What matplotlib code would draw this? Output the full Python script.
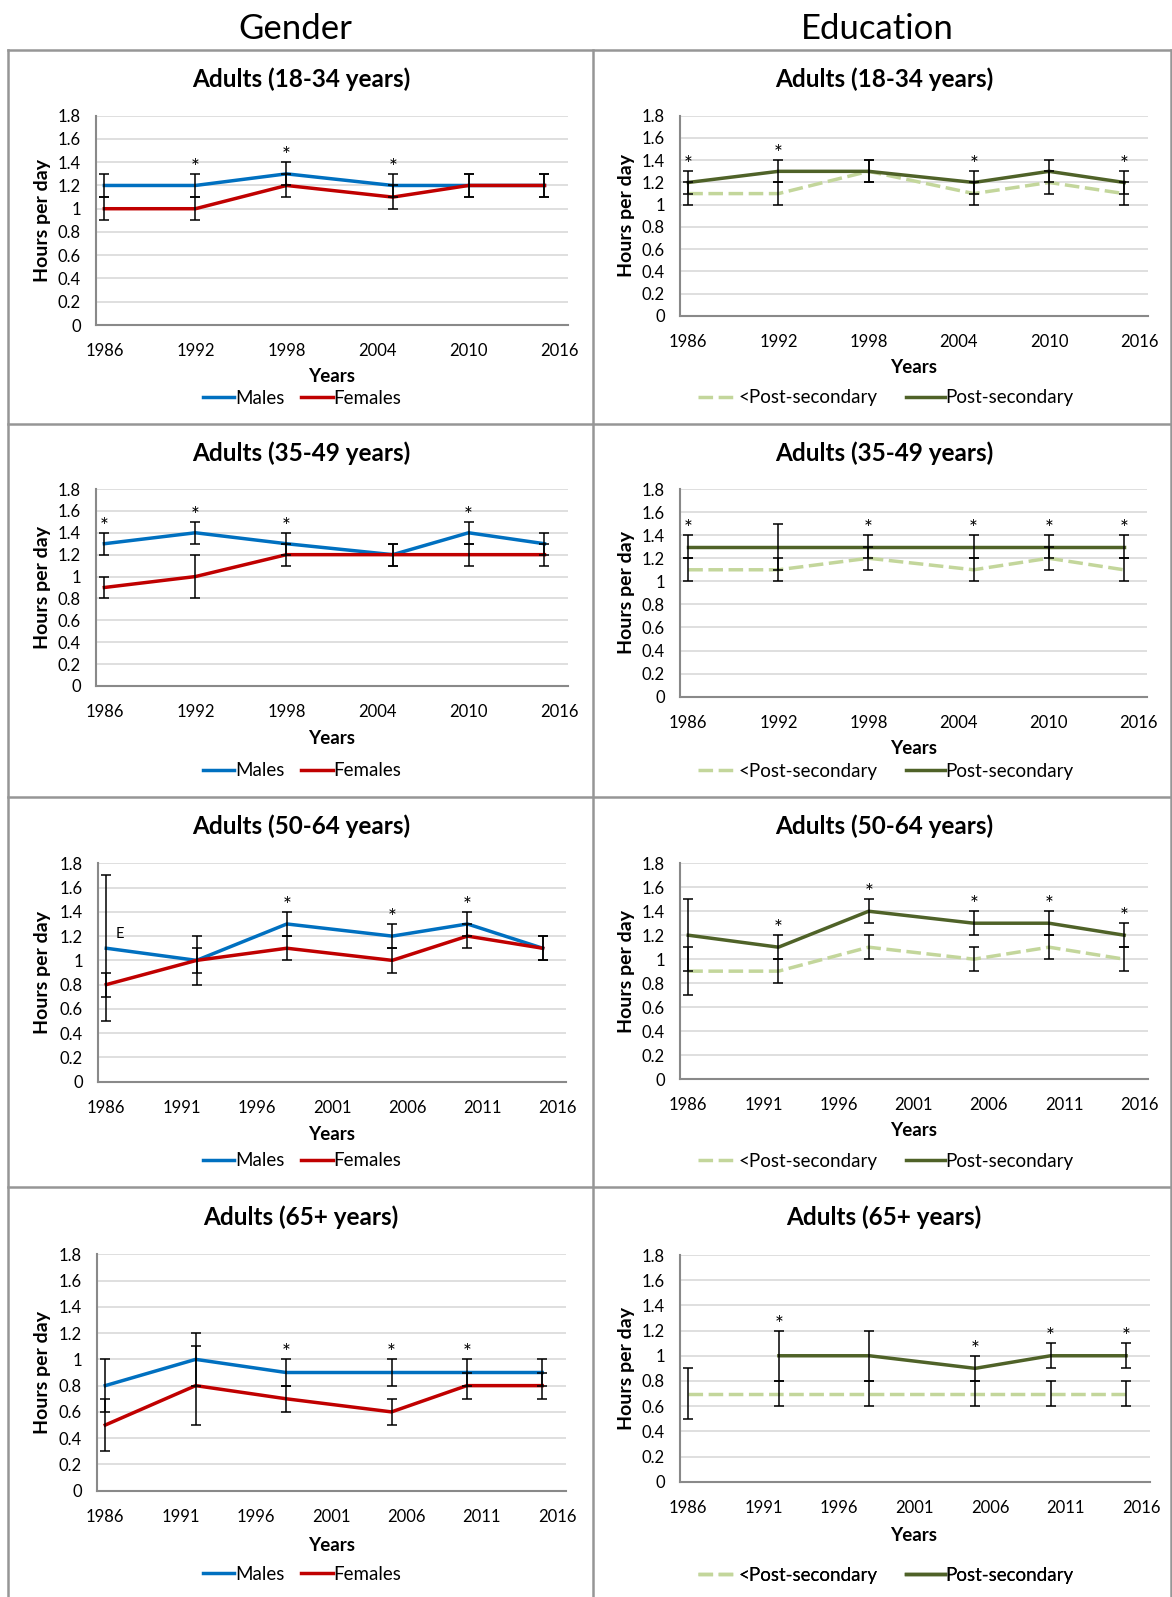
import numpy as np
import matplotlib
matplotlib.use('Agg')
import matplotlib.pyplot as plt

plt.rcParams['font.family'] = ['Lato', 'DejaVu Sans']

# survey years
years = [1986, 1992, 1998, 2005, 2010, 2015]

# ---- Gender ----
males_18_34 = [1.2, 1.2, 1.3, 1.2, 1.2, 1.2]
males_18_34_err = [0.1, 0.1, 0.1, 0.1, 0.1, 0.1]
females_18_34 = [1.0, 1.0, 1.2, 1.1, 1.2, 1.2]
females_18_34_err = [0.1, 0.1, 0.1, 0.1, 0.1, 0.1]
stars_g_18_34 = [1992, 1998, 2005]

males_35_49 = [1.3, 1.4, 1.3, 1.2, 1.4, 1.3]
males_35_49_err = [0.1, 0.1, 0.1, 0.1, 0.1, 0.1]
females_35_49 = [0.9, 1.0, 1.2, 1.2, 1.2, 1.2]
females_35_49_err = [0.1, 0.2, 0.1, 0.1, 0.1, 0.1]
stars_g_35_49 = [1986, 1992, 1998, 2010]

males_50_64 = [1.1, 1.0, 1.3, 1.2, 1.3, 1.1]
males_50_64_err = [0.6, 0.2, 0.1, 0.1, 0.1, 0.1]
females_50_64 = [0.8, 1.0, 1.1, 1.0, 1.2, 1.1]
females_50_64_err = [0.1, 0.1, 0.1, 0.1, 0.1, 0.1]
stars_g_50_64 = [1998, 2005, 2010]

males_65 = [0.8, 1.0, 0.9, 0.9, 0.9, 0.9]
males_65_err = [0.2, 0.2, 0.1, 0.1, 0.1, 0.1]
females_65 = [0.5, 0.8, 0.7, 0.6, 0.8, 0.8]
females_65_err = [0.2, 0.3, 0.1, 0.1, 0.1, 0.1]
stars_g_65 = [1998, 2005, 2010]

# ---- Education ----
lowed_18_34 = [1.1, 1.1, 1.3, 1.1, 1.2, 1.1]
lowed_18_34_err = [0.1, 0.1, 0.1, 0.1, 0.1, 0.1]
post_18_34 = [1.2, 1.3, 1.3, 1.2, 1.3, 1.2]
post_18_34_err = [0.1, 0.1, 0.1, 0.1, 0.1, 0.1]
stars_e_18_34 = [1986, 1992, 2005, 2015]

lowed_35_49 = [1.1, 1.1, 1.2, 1.1, 1.2, 1.1]
lowed_35_49_err = [0.1, 0.1, 0.1, 0.1, 0.1, 0.1]
post_35_49 = [1.3, 1.3, 1.3, 1.3, 1.3, 1.3]
post_35_49_err = [0.1, 0.2, 0.1, 0.1, 0.1, 0.1]
stars_e_35_49 = [1986, 1998, 2005, 2010, 2015]

lowed_50_64 = [0.9, 0.9, 1.1, 1.0, 1.1, 1.0]
lowed_50_64_err = [0.2, 0.1, 0.1, 0.1, 0.1, 0.1]
post_50_64 = [1.2, 1.1, 1.4, 1.3, 1.3, 1.2]
post_50_64_err = [0.3, 0.1, 0.1, 0.1, 0.1, 0.1]
stars_e_50_64 = [1992, 1998, 2005, 2010, 2015]

lowed_65 = [0.7, 0.7, 0.7, 0.7, 0.7, 0.7]
lowed_65_err = [0.2, 0.1, 0.1, 0.1, 0.1, 0.1]
post_65 = [np.nan, 1.0, 1.0, 0.9, 1.0, 1.0]
post_65_err = [np.nan, 0.2, 0.2, 0.1, 0.1, 0.1]
stars_e_65 = [1992, 2005, 2010, 2015]

titles = ['Adults (18-34 years)', 'Adults (35-49 years)',
          'Adults (50-64 years)', 'Adults (65+ years)']
yticks = [0, 0.2, 0.4, 0.6, 0.8, 1.0, 1.2, 1.4, 1.6, 1.8]
ytick_labels = ['0', '0.2', '0.4', '0.6', '0.8', '1', '1.2', '1.4', '1.6', '1.8']
xticks_6 = [1986, 1992, 1998, 2004, 2010, 2016]
xticks_5 = [1986, 1991, 1996, 2001, 2006, 2011, 2016]

BLUE, RED = '#0070C0', '#C00000'
DARK, LIGHT = '#4F6228', '#C3D69B'
GRID, SPINE, FRAME = '#D9D9D9', '#898989', '#969696'

W, H = 1172, 1597
fig = plt.figure(figsize=(W / 100, H / 100), dpi=100)

# background layer in pixel coordinates
bg = fig.add_axes([0, 0, 1, 1])
bg.set_xlim(0, W)
bg.set_ylim(H, 0)
bg.axis('off')
for x in [8, 593, 1170.5]:
    bg.plot([x, x], [50, H], color=FRAME, lw=1.8)
for y in [50, 423.5, 797, 1186.5]:
    bg.plot([8, 1170.5], [y, y], color=FRAME, lw=1.8)
bg.text(295, 29, 'Gender', fontsize=25, ha='center', va='center')
bg.text(877, 29, 'Education', fontsize=25, ha='center', va='center')


def px_box(l, t, r, b):
    return [l / W, 1 - b / H, (r - l) / W, (b - t) / H]


# layout: axes box, title y, "Years" y, legend y  (pixels)
left_layout = [((96, 115.7, 568, 325), 79.5, 377, 398),
               ((96, 489, 568, 686), 453, 738, 771),
               ((98, 863.3, 566, 1081.7), 826, 1134, 1161),
               ((97, 1254.3, 565.5, 1490.7), 1217, 1545.5, 1574)]
right_layout = [((680, 115.7, 1147.5, 316), 79.5, 367.5, 398),
                ((680, 489, 1147, 696.7), 453, 748.5, 771),
                ((680, 863.3, 1147.5, 1079), 826, 1130, 1161),
                ((680, 1255, 1149.5, 1481.7), 1217, 1535.5, 1575)]

gender_data = [
    (males_18_34, males_18_34_err, females_18_34, females_18_34_err, stars_g_18_34),
    (males_35_49, males_35_49_err, females_35_49, females_35_49_err, stars_g_35_49),
    (males_50_64, males_50_64_err, females_50_64, females_50_64_err, stars_g_50_64),
    (males_65, males_65_err, females_65, females_65_err, stars_g_65),
]
edu_data = [
    (lowed_18_34, lowed_18_34_err, post_18_34, post_18_34_err, stars_e_18_34),
    (lowed_35_49, lowed_35_49_err, post_35_49, post_35_49_err, stars_e_35_49),
    (lowed_50_64, lowed_50_64_err, post_50_64, post_50_64_err, stars_e_50_64),
    (lowed_65, lowed_65_err, post_65, post_65_err, stars_e_65),
]


def setup_axes(box, row, label_x):
    ax = fig.add_axes(px_box(*box))
    ax.set_xlim(1985.45, 2016.55)
    ax.set_ylim(0, 1.8)
    ax.set_yticks(yticks)
    ax.set_yticklabels(ytick_labels)
    ax.set_xticks(xticks_6 if row < 2 else xticks_5)
    ax.tick_params(length=0, labelsize=12, pad=11)
    ax.tick_params(axis='x', pad=13)
    ax.grid(axis='y', color=GRID, lw=1.2)
    ax.set_axisbelow(True)
    for s in ['top', 'right']:
        ax.spines[s].set_visible(False)
    for s in ['left', 'bottom']:
        ax.spines[s].set_color(SPINE)
        ax.spines[s].set_linewidth(1.5)
    ax.set_ylabel('Hours per day', fontsize=14, fontweight='bold')
    ax.yaxis.set_label_coords((label_x - box[0]) / (box[2] - box[0]), 0.5)
    return ax


def draw_stars(ax, series, stars):
    for yr in stars:
        i = years.index(yr)
        top = max(v[i] + e[i] for v, e in series if not np.isnan(v[i]))
        ax.text(yr, top + 0.0, '*', ha='center', va='baseline', fontsize=15)


eb_kw = dict(fmt='none', ecolor='black', elinewidth=1.1, capsize=3.5, capthick=1.1, zorder=4)

for row in range(4):
    # gender column
    box, ty, yy, ly = left_layout[row]
    m, me, f, fe, st = gender_data[row]
    ax = setup_axes(box, row, 51)
    lm, = ax.plot(years, m, color=BLUE, lw=2.5, label='Males', zorder=3)
    lf, = ax.plot(years, f, color=RED, lw=2.5, label='Females', zorder=3)
    ax.errorbar(years, m, yerr=me, **eb_kw)
    ax.errorbar(years, f, yerr=fe, **eb_kw)
    draw_stars(ax, [(m, me), (f, fe)], st)
    if row == 2:
        ax.annotate('E', (years[0], m[0]), xytext=(7, 10), textcoords='offset points',
                    fontsize=10.5, ha='left', va='center')
    bg.text(301, ty, titles[row], fontsize=17.5,
            fontweight='bold', ha='center', va='center')
    bg.text(332, yy, 'Years', fontsize=13.5, fontweight='bold', ha='center', va='center')
    bg.legend([lm, lf], ['Males', 'Females'], loc='center',
              bbox_to_anchor=(302, ly), bbox_transform=bg.transData,
              ncol=2, frameon=False, fontsize=13.5, handlelength=1.68,
              handletextpad=0.05, columnspacing=0.9, borderpad=0)
    bg.add_artist(bg.get_legend())

    # education column
    box, ty, yy, ly = right_layout[row]
    lo, lo_e, po, po_e, st = edu_data[row]
    ax = setup_axes(box, row, 635)
    l1, = ax.plot(years, lo, color=LIGHT, lw=2.5, dashes=(4.2, 1.6),
                  label='<Post-secondary', zorder=3)
    l2, = ax.plot(years, po, color=DARK, lw=2.5, label='Post-secondary', zorder=3)
    ax.errorbar(years, lo, yerr=lo_e, **eb_kw)
    ax.errorbar(years, po, yerr=po_e, **eb_kw)
    draw_stars(ax, [(lo, lo_e), (po, po_e)], st)
    bg.text(884, ty, titles[row], fontsize=17.5,
            fontweight='bold', ha='center', va='center')
    bg.text(913.5, yy, 'Years', fontsize=13.5, fontweight='bold', ha='center', va='center')
    bg.legend([l1, l2], ['<Post-secondary', 'Post-secondary'], loc='center',
              bbox_to_anchor=(886, ly), bbox_transform=bg.transData,
              ncol=2, frameon=False, fontsize=13.5, handlelength=2.08,
              handletextpad=0.05, columnspacing=1.5, borderpad=0)
    bg.add_artist(bg.get_legend())

fig.savefig('out.png', dpi=100)
